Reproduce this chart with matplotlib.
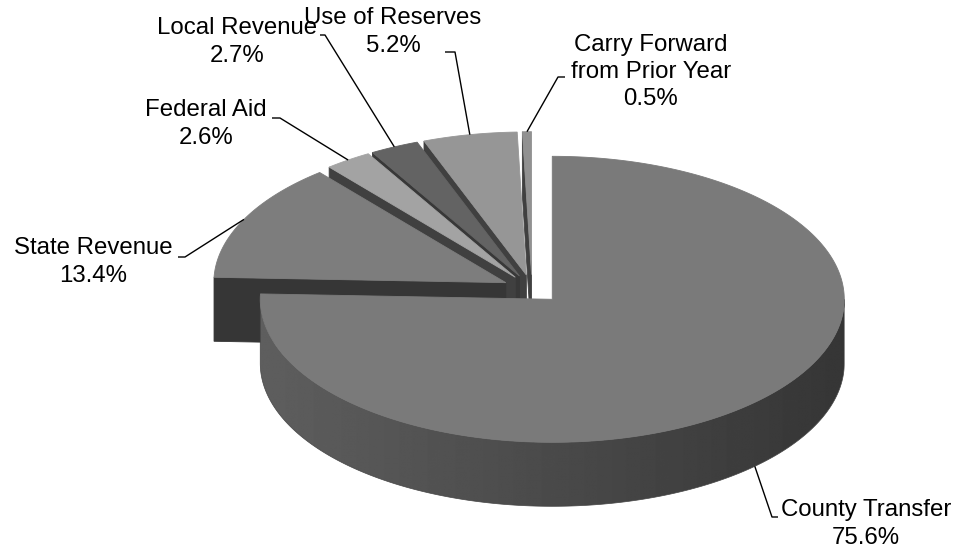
import numpy as np
import matplotlib
matplotlib.use("Agg")
import matplotlib.pyplot as plt
from matplotlib.patches import Polygon

plt.rcParams['font.family'] = ['Liberation Sans', 'DejaVu Sans']

# Revenue sources and their shares (%)
labels = ["County Transfer", "State Revenue", "Federal Aid", "Local Revenue",
          "Use of Reserves", "Carry Forward\nfrom Prior Year"]
shares = [75.6, 13.4, 2.6, 2.7, 5.2, 0.5]

# gray level of each slice's top face and of its cut faces
top_gray = [0.48, 0.49, 0.64, 0.39, 0.59, 0.57]
cut_gray = [0.24, 0.21, 0.25, 0.22, 0.25, 0.25]

# label block centres and leader elbows (pixel layout)
label_pos = [(866, 524), (93, 262), (206, 124), (237, 42), (393, 32), (651, 72)]
leader_elbow = [(772, 517), (185, 257), (280, 118), (325, 35), (455, 52), (558, 77)]
leader_end = [(778, 517), (178, 257), (272, 118), (320, 35), (445, 52), (565, 77)]

# projected pie geometry
CX, CY = 532, 289
RX, RY, DEPTH = 292, 143, 64
EXPLODE = 0.10

fig = plt.figure(figsize=(9.58, 5.5), dpi=100)
ax = fig.add_axes([0, 0, 1, 1])
ax.set_xlim(0, 958)
ax.set_ylim(550, 0)
ax.axis('off')


def rim(ox, oy, th, dz=0.0):
    return (ox + RX * np.cos(th), oy - RY * np.sin(th) + dz)


side_faces = []   # (world depth, kind, data)
top_faces = []
anchors = []

start = 90.0
for i, s in enumerate(shares):
    t1 = np.radians(start)
    t2 = np.radians(start - 360.0 * s / 100.0)
    start -= 360.0 * s / 100.0
    mid = 0.5 * (t1 + t2)
    ox = CX + EXPLODE * RX * np.cos(mid)
    oy = CY - EXPLODE * RY * np.sin(mid)
    wy = EXPLODE * np.sin(mid)

    # top face
    n = max(4, int(abs(np.degrees(t1 - t2)) * 2))
    arc = np.linspace(t1, t2, n)
    poly = [(ox, oy)] + [rim(ox, oy, a) for a in arc]
    top_faces.append((wy, poly, str(top_gray[i])))

    # outer curved side, only the part facing the viewer
    ang = np.linspace(t2, t1, 4 * n + 1)
    front = ang[np.sin(ang) <= 0]
    if front.size > 1:
        upper = [rim(ox, oy, a) for a in front]
        lower = [rim(ox, oy, a, DEPTH) for a in front[::-1]]
        side_faces.append((wy - 0.5, 'curved', (upper + lower, ox)))

    # radial cut faces
    for th, vis in ((t1, np.cos(t1) < -1e-6), (t2, np.cos(t2) > 1e-6)):
        if vis:
            q = [(ox, oy), rim(ox, oy, th), rim(ox, oy, th, DEPTH), (ox, oy + DEPTH)]
            side_faces.append((wy + 0.5 * np.sin(th), 'flat', (q, str(cut_gray[i]))))

    # leader anchor at slice middle
    anchors.append(rim(ox, oy, mid, DEPTH) if np.sin(mid) < 0 else rim(ox, oy, mid))

for _, kind, data in sorted(side_faces, key=lambda f: -f[0]):
    if kind == 'flat':
        q, c = data
        ax.add_patch(Polygon(q, closed=True, facecolor=c, edgecolor=c, linewidth=0.6))
    else:
        q, ox = data
        patch = Polygon(q, closed=True, facecolor='none', edgecolor='none')
        ax.add_patch(patch)
        xs = np.linspace(ox - RX, ox + RX, 600)
        c = np.clip((xs - ox) / RX, -1, 1)
        shade = 0.29 - 0.08 * c
        img = np.tile(shade, (2, 1))
        ys = [p[1] for p in q]
        im = ax.imshow(img, cmap='gray', vmin=0, vmax=1, aspect='auto',
                       extent=(ox - RX, ox + RX, max(ys) + 1, min(ys) - 1),
                       interpolation='bilinear', zorder=1)
        im.set_clip_path(patch)
        ax.add_patch(Polygon(q, closed=True, facecolor='none',
                             edgecolor=(0.27, 0.27, 0.27), linewidth=0.5, zorder=1))

for _, q, c in sorted(top_faces, key=lambda f: -f[0]):
    ax.add_patch(Polygon(q, closed=True, facecolor=c, edgecolor=c, linewidth=0.6,
                         zorder=2))

for i, lab in enumerate(labels):
    a = anchors[i]
    e = leader_elbow[i]
    t = leader_end[i]
    ax.plot([a[0], e[0], t[0]], [a[1], e[1], t[1]], color='black', lw=1.0,
            solid_capstyle='butt', zorder=3)
    ax.text(label_pos[i][0], label_pos[i][1], f"{lab}\n{shares[i]:.1f}%",
            ha='center', va='center', multialignment='center',
            fontsize=17.3, linespacing=1.3, color='black', zorder=4)

ax.set_xlim(0, 958)
ax.set_ylim(550, 0)
fig.savefig("out.png", dpi=100, facecolor='white')
